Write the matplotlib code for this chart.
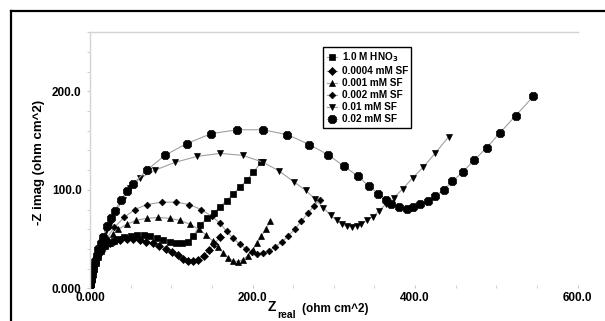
import matplotlib

matplotlib.use("Agg")
import matplotlib.pyplot as plt
from matplotlib.lines import Line2D

plt.rcParams["font.family"] = ["Liberation Sans", "DejaVu Sans"]
plt.rcParams["font.weight"] = "bold"
plt.rcParams["mathtext.default"] = "bf"

# Nyquist data (Z real, -Z imag), ohm cm^2
hno3_x = [0.5, 1, 2, 3, 5, 7, 10, 14, 19, 24, 29, 35, 42, 50, 58, 66, 74, 82, 90, 98, 106, 113,
          120, 127, 135, 144, 152, 160, 168, 176, 185, 193, 201, 211]
hno3_y = [1, 4, 9, 14, 20, 26, 32, 38, 43, 46, 48, 50, 52, 53, 54, 54, 53, 51.5, 49.5, 47.5, 46, 45.5,
          47, 53, 64, 71, 76, 83, 89, 96, 103, 110, 118, 128]

sf0004_x = [0.5, 1, 2, 4, 6, 9, 13, 18, 24, 30, 37, 45, 53, 61, 69, 77, 85, 93, 101, 108, 115, 121,
            127, 133, 140, 146, 153, 160]
sf0004_y = [2, 6, 11, 18, 25, 32, 38, 43, 46, 48, 49.5, 50, 50, 49, 47.5, 45.5, 43, 40, 37, 33.5, 30, 28,
            27.5, 29, 33, 39, 45, 52]

sf001_x = [0.5, 1, 2, 4, 7, 11, 16, 22, 28, 35, 45, 57, 70, 84, 98, 111, 123, 134, 143, 151, 158,
           164, 170, 176, 182, 188, 194, 200, 206, 211, 216, 222]
sf001_y = [2, 7, 13, 21, 29, 37, 44, 50, 55, 60, 65, 69, 71, 72, 71, 69, 65, 60, 54, 48, 42,
           36, 31, 28, 27, 29, 33, 39, 46, 53, 60, 68]

sf002_x = [0.5, 1, 2, 4, 7, 11, 15, 20, 30, 42, 55, 70, 88, 106, 122, 137, 150, 160, 168, 176,
           184, 192, 199, 206, 213, 220, 228, 236, 244, 252, 260, 268, 276, 283]
sf002_y = [2, 8, 14, 22, 31, 39, 45, 50, 62, 72, 80, 85, 87.5, 87.5, 85, 80, 73, 66, 58, 51,
           45, 40, 37, 35, 36, 38, 42, 47, 53, 60, 68, 76, 84, 90]

sf01_x = [0.5, 1, 2, 3, 5, 7, 10, 13, 16, 20, 24, 32, 40, 49, 62, 80, 105, 132, 160, 188, 213, 233,
          251, 265.5, 277, 287, 296, 303.6, 309.7, 316, 322, 328, 334, 340.5, 348, 356, 364, 374,
          384.8, 397, 410, 424.6, 441.5]
sf01_y = [2, 7, 12, 17, 24, 30, 38, 45, 52, 58, 65, 78, 90, 102, 112, 120, 128, 134, 137, 135, 128, 119,
          108, 99.5, 90.4, 82, 74, 69, 65, 63, 62.4, 63.7, 65, 69, 72.5, 79, 85.3, 92,
          101, 112, 123, 137, 154]

sf02_x = [0.5, 1, 2, 3, 4, 6, 8, 10, 13, 16, 21, 26, 31, 38, 46, 53, 70, 92, 119, 149, 181, 213, 243,
          270, 293, 312.6, 330, 343, 355, 364, 371, 380.7, 389.7, 398, 406, 415.6, 424.6, 435.7,
          446, 458.7, 472.6, 488, 504.6, 524, 545.6]
sf02_y = [3, 8, 13, 17, 22, 28, 34, 40, 46, 52, 63, 71, 79, 90, 99, 106, 120, 135, 147, 157, 161, 161, 156,
          146, 135.6, 124, 113.7, 103.8, 96, 90, 86, 82.6, 81, 82.6, 85.3, 88.7, 93.4, 100.2,
          108.6, 118, 130, 142.7, 158, 175.4, 195]

labels = ["1.0 M HNO$_3$", "0.0004 mM SF", "0.001 mM SF", "0.002 mM SF", "0.01 mM SF", "0.02 mM SF"]

fig = plt.figure(figsize=(6.05, 3.21), dpi=100)
ax = fig.add_axes([0.1488, 0.1019, 0.8058, 0.7975])

line_c = "#a0a0a0"
series = [
    (hno3_x, hno3_y, "s", 4.2),
    (sf0004_x, sf0004_y, "D", 4.2),
    (sf001_x, sf001_y, "^", 5.0),
    (sf002_x, sf002_y, "D", 3.4),
    (sf01_x, sf01_y, "v", 5.0),
    (sf02_x, sf02_y, "8", 6.0),
]
for (xs, ys, m, ms), lab in zip(series, labels):
    ax.plot(xs, ys, color=line_c, lw=0.8, marker=m, markersize=ms,
            mfc="black", mec="black", mew=0.5, label=lab)

ax.set_xlim(0, 600)
ax.set_ylim(0, 260)
ax.set_xticks([0, 200, 400, 600])
ax.set_xticklabels(["0.000", "200.0", "400.0", "600.0"])
ax.set_xticks(range(0, 601, 50), minor=True)
ax.set_yticks([0, 100, 200])
ax.set_yticklabels(["0.000", "100.0", "200.0"])
ax.set_yticks(range(0, 261, 20), minor=True)

for s in ["bottom", "right"]:
    ax.spines[s].set_visible(False)
for s in ["left", "top"]:
    ax.spines[s].set_color("#d4d4d4")
    ax.spines[s].set_linewidth(1.0)

ax.tick_params(axis="x", which="both", direction="in", length=2, color="#c8c8c8",
               labelsize=8.5, pad=3)
ax.tick_params(axis="y", which="both", direction="out", length=2, color="#c8c8c8",
               labelsize=8.5, pad=4)

leg = ax.legend(loc="upper left", bbox_to_anchor=(323 / 605, 1 - 47 / 321),
                bbox_transform=fig.transFigure, borderaxespad=0, fontsize=7.2,
                handlelength=1.0, handletextpad=0.5, borderpad=0.35, labelspacing=0.2,
                fancybox=False, framealpha=1)
leg.get_frame().set_edgecolor("black")
leg.get_frame().set_linewidth(1.0)

fig.text(39 / 605, 1 - 162 / 321, "-Z imag (ohm cm^2)", rotation=90,
         ha="center", va="center", fontsize=9.5, fontweight="bold")
fig.text(268 / 605, 1 - 311 / 321, "Z", ha="left", va="baseline", fontsize=10, fontweight="bold")
fig.text(277 / 605, 1 - 318 / 321, "real", ha="left", va="baseline", fontsize=7.5, fontweight="bold")
fig.text(302 / 605, 1 - 312 / 321, "(ohm cm^2)", ha="left", va="baseline", fontsize=8.5,
         fontweight="bold")

# outer frame
fig.add_artist(Line2D([11 / 605, 11 / 605], [0, 1 - 11 / 321], color="black", lw=1.6,
                      transform=fig.transFigure))
fig.add_artist(Line2D([11 / 605, 1], [1 - 11 / 321, 1 - 11 / 321], color="black", lw=1.6,
                      transform=fig.transFigure))

fig.savefig("out.png", dpi=100)
